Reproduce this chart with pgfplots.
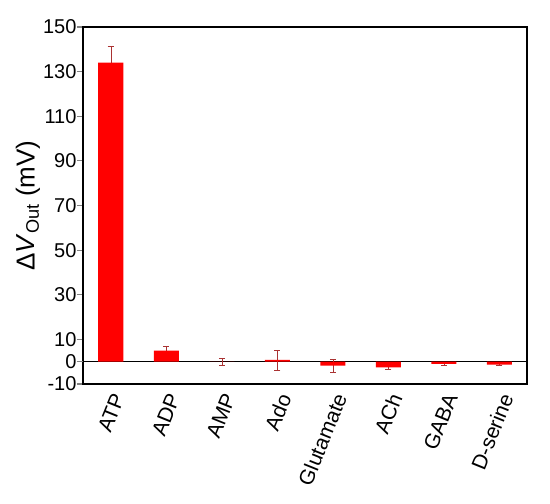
\documentclass[border=0pt]{standalone}
\usepackage{fontspec}
\setmainfont{Liberation Sans}
\usepackage{pgfplots}
\pgfplotsset{compat=1.18}
\definecolor{errc}{RGB}{170,50,50}

\begin{document}
\begin{tikzpicture}
  \begin{axis}[
      scale only axis,
      width=444pt, height=357pt,
      ymin=-10, ymax=150,
      xmin=-0.5, xmax=7.5,
      ytick={-10,0,10,30,50,70,90,110,130,150},
      xtick={0,1,2,3,4,5,6,7},
      xticklabels={ATP,ADP,AMP,Ado,Glutamate,ACh,GABA,D-serine},
      x tick style={draw=none},
      ytick pos=left,
      tick align=outside,
      major tick length=6pt,
      y tick style={line width=1.2pt},
      axis line style={line width=1.3pt},
      /pgf/number format/assume math mode=true,
      yticklabel style={font=\fontsize{20}{20}\selectfont, xshift=3pt},
      xticklabel style={font=\fontsize{21}{21}\selectfont, rotate=68, anchor=east, yshift=-9pt, xshift=2pt},
      ylabel={Δ\textit{V}\textsubscript{Out} (mV)},
      every axis y label/.style={at={(axis description cs:-0.124,0.5)}, rotate=90, anchor=center,
        font=\fontsize{26}{26}\selectfont},
      extra y ticks={0},
      extra y tick labels={},
      extra y tick style={grid=major, major grid style={black, line width=1.2pt}},
    ]
    % error bars first, bars drawn over them
    \addplot[ybar, bar width=25pt, fill=none, draw=none,
      error bars/.cd, y dir=both, y explicit,
      error bar style={color=errc, line width=0.5pt},
      error mark options={color=errc, rotate=90, mark size=3pt, line width=0.5pt}]
      coordinates {
        (0,134) +- (0,7.5)
        (1,5) +- (0,1.8)
        (2,0) +- (0,1.5)
        (3,0.8) +- (0,4.5)
        (4,-1.8) +- (0,2.8)
        (5,-2.5) +- (0,0.8)
        (6,-1) +- (0,0.6)
        (7,-1.3) +- (0,0.5)
      };
    \addplot[ybar, bar width=25pt, fill=red, draw=none]
      coordinates {
        (0,134) (1,5) (2,0) (3,0.8) (4,-1.8) (5,-2.5) (6,-1) (7,-1.3)
      };
  \end{axis}
  \pgfresetboundingbox
  \path ([xshift=-83pt,yshift=-119pt]current axis.south west)
    rectangle ([xshift=23pt,yshift=27pt]current axis.north east);
\end{tikzpicture}
\end{document}
